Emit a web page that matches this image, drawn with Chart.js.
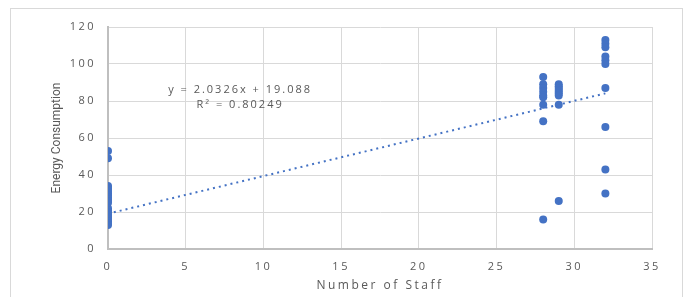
<!DOCTYPE html>
<html>
<head>
<meta charset="utf-8">
<script src="https://cdn.jsdelivr.net/npm/chart.js@4/dist/chart.umd.min.js"></script>
<style>
  html, body { margin: 0; padding: 0; background: #fff; }
  #wrap { width: 685px; height: 297px; position: relative; }
</style>
</head>
<body>
<div id="wrap"><canvas id="chart"></canvas></div>
<script>
// staff counts and the energy readings for each
const staff0 = [53, 49, 34, 33, 32, 31, 30, 29, 28, 27, 26, 25, 22, 21, 20, 19, 18, 17, 16, 15, 14, 13];
const staff28 = [93, 89, 87, 85, 83, 82, 78, 69, 16];
const staff29 = [89, 88, 87, 86, 85, 84, 83, 78, 26];
const staff32 = [113, 111, 109, 104, 102, 100, 87, 66, 43, 30];
const staffGroups = [0, 28, 29, 32];
const xTicks = [0, 5, 10, 15, 20, 25, 30, 35];
const yTicks = [0, 20, 40, 60, 80, 100, 120];
const slope = 2.0326, intercept = 19.088, r2 = 0.80249;

const blue = '#4472C4';
const gridCol = '#d9d9d9';
const tickCol = '#595959';

let points = [];
[staff0, staff28, staff29, staff32].forEach(function (vals, i) {
    vals.forEach(function (v) { points.push({ x: staffGroups[i], y: v }); });
});

const trend = [
    { x: 0, y: intercept },
    { x: 32, y: slope * 32 + intercept }
];

// excel style wide spaced text + outer frame
const frame = {
    id: 'frame',
    beforeDraw(chart) {
        let ctx = chart.ctx;
        ctx.letterSpacing = '2.5px';
        ctx.save();
        ctx.strokeStyle = gridCol;
        ctx.lineWidth = 1;
        ctx.strokeRect(10.5, 8.5, 672, 300);
        ctx.restore();
    }
};

const labels = {
    id: 'labels',
    afterDatasetsDraw(chart) {
        let ctx = chart.ctx;
        let xs = chart.scales.x, ys = chart.scales.y;
        let area = chart.chartArea;
        ctx.save();
        ctx.fillStyle = tickCol;
        ctx.letterSpacing = '2px';
        ctx.font = '11px "Open Sans"';
        ctx.textAlign = 'center';
        ctx.textBaseline = 'middle';
        ctx.fillText('y = ' + slope + 'x + ' + intercept, xs.getPixelForValue(8.5), ys.getPixelForValue(86));
        ctx.fillText('R\u00B2 = ' + r2, xs.getPixelForValue(8.5), ys.getPixelForValue(78));

        ctx.letterSpacing = '0px';
        ctx.font = '12px Roboto';
        ctx.translate(57, (area.top + area.bottom) / 2);
        ctx.rotate(-Math.PI / 2);
        ctx.fillText('Energy Consumption', 0, 0);
        ctx.restore();
    }
};

new Chart(document.getElementById('chart'), {
    type: 'scatter',
    data: {
        datasets: [{
            data: points,
            backgroundColor: blue,
            borderColor: blue,
            pointRadius: 4,
            pointBorderWidth: 0
        }, {
            type: 'line',
            data: trend,
            borderColor: blue,
            borderWidth: 2,
            borderDash: [2, 4],
            pointRadius: 0,
            fill: false
        }]
    },
    options: {
        responsive: true,
        maintainAspectRatio: false,
        animation: false,
        layout: { padding: { left: 46, top: 27, right: 33, bottom: 0 } },
        plugins: { legend: { display: false }, tooltip: { enabled: false } },
        scales: {
            x: {
                type: 'linear',
                min: 0, max: 35,
                afterBuildTicks: s => { s.ticks = xTicks.map(v => ({ value: v })); },
                afterFit: s => { s.height = 48; },
                grid: { color: gridCol, drawTicks: false },
                border: { color: '#bfbfbf', width: 2 },
                ticks: { color: tickCol, padding: 11, font: { family: 'Open Sans', size: 11 } },
                title: { display: true, text: 'Number of Staff', color: tickCol, font: { family: 'Open Sans', size: 12 } }
            },
            y: {
                min: 0, max: 120,
                afterBuildTicks: s => { s.ticks = yTicks.map(v => ({ value: v })); },
                afterFit: s => { s.width = 62; },
                grid: { color: gridCol, drawTicks: false },
                border: { color: '#bfbfbf', width: 2 },
                ticks: { color: tickCol, padding: 12, font: { family: 'Open Sans', size: 11 } },
                title: { display: false }
            }
        }
    },
    plugins: [frame, labels]
});
</script>
</body>
</html>
